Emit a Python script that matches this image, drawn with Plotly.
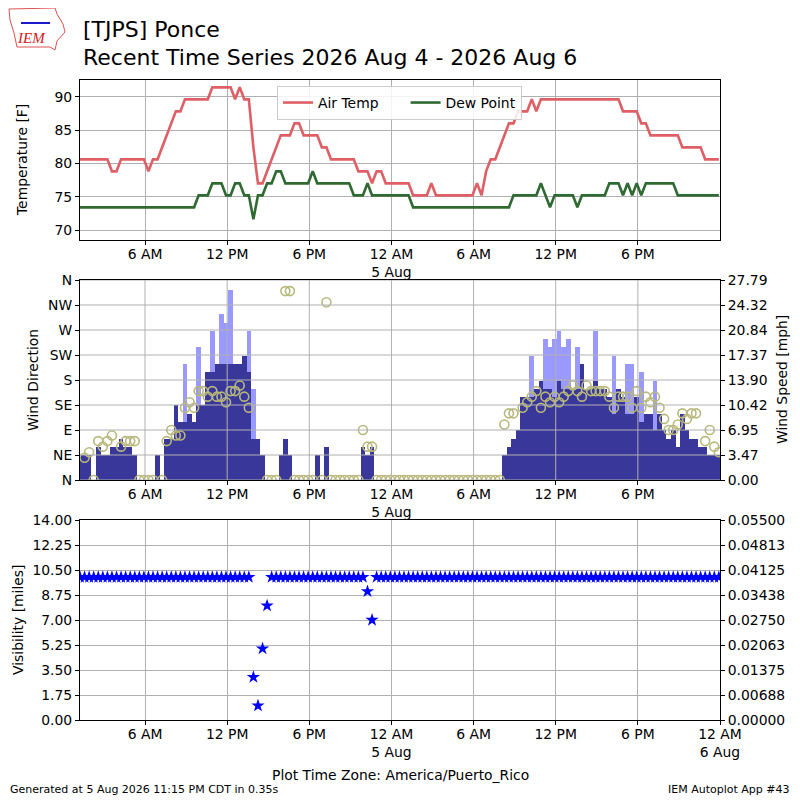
import pandas as pd
import plotly.graph_objects as go

# Observações a cada 20 minutos (hora local America/Puerto_Rico)
tempos = pd.date_range("2026-08-04 01:15", periods=141, freq="20min")

# Temperatura do ar [C]
temp_c = [
    27, 27, 27, 27, 27, 27, 27, 26, 26, 27,
    27, 27, 27, 27, 27, 26, 27, 27, 28, 29,
    30, 31, 31, 32, 32, 32, 32, 32, 32, 33,
    33, 33, 33, 33, 32, 33, 32, 32, 28, 25,
    25, 26, 27, 28, 29, 29, 29, 30, 30, 29,
    29, 29, 29, 28, 28, 27, 27, 27, 27, 27,
    27, 26, 26, 26, 25, 26, 26, 25, 25, 25,
    25, 25, 25, 24, 24, 24, 24, 25, 24, 24,
    24, 24, 24, 24, 24, 24, 24, 25, 24, 26,
    27, 27, 28, 29, 30, 30, 31, 31, 31, 32,
    31, 32, 32, 32, 32, 32, 32, 32, 32, 32,
    32, 32, 32, 32, 32, 32, 32, 32, 32, 31,
    31, 31, 31, 30, 30, 29, 29, 29, 29, 29,
    29, 29, 28, 28, 28, 28, 28, 27, 27, 27,
    27,
]

# Ponto de orvalho [C]
orvalho_c = [
    23, 23, 23, 23, 23, 23, 23, 23, 23, 23,
    23, 23, 23, 23, 23, 23, 23, 23, 23, 23,
    23, 23, 23, 23, 23, 23, 24, 24, 24, 25,
    25, 25, 24, 24, 25, 25, 24, 24, 22, 24,
    24, 25, 25, 26, 26, 25, 25, 25, 25, 25,
    25, 26, 25, 25, 25, 25, 25, 25, 25, 25,
    24, 24, 24, 25, 24, 24, 24, 24, 24, 24,
    24, 24, 24, 23, 23, 23, 23, 23, 23, 23,
    23, 23, 23, 23, 23, 23, 23, 23, 23, 23,
    23, 23, 23, 23, 23, 24, 24, 24, 24, 24,
    24, 25, 24, 23, 24, 24, 24, 24, 24, 23,
    24, 24, 24, 24, 24, 24, 25, 25, 25, 24,
    25, 24, 25, 24, 25, 25, 25, 25, 25, 25,
    25, 24, 24, 24, 24, 24, 24, 24, 24, 24,
    24,
]

# Direção do vento [graus] (0 = calmo, None = sem direção)
direcao = [
    None, 40, 50, 0, 70, 60, 70, 80, None, 60,
    70, 70, 70, 0, 0, 0, 0, None, 0, 70,
    90, 80, 80, 130, 140, 130, 160, 160, 150, 160,
    150, 150, 140, 160, 160, 170, 150, 130, None, None,
    None, 0, 0, 0, None, 340, 340, 0, 0, 0,
    0, 0, None, 0, 320, 0, 0, 0, 0, 0,
    0, 0, 90, 60, 60, 0, 0, 0, 0, 0,
    0, 0, 0, 0, 0, 0, 0, 0, 0, 0,
    0, 0, 0, 0, 0, 0, 0, 0, 0, 0,
    0, 0, 0, 100, 120, 120, None, 130, 140, 150,
    160, 130, 150, 140, 150, 140, 150, 160, 170, 160,
    150, 170, 160, 160, 160, 160, 150, 130, 150, 150,
    150, 130, 160, 130, 150, 140, 150, 130, 110, 90,
    90, 100, 120, 110, 120, 120, None, 70, 90, 60,
    50,
]

# Velocidade do vento [nós]
vento_kt = [
    3, 3, 3, 0, 4, 3, 3, 4, 4, 5,
    4, 4, 3, 0, 0, 0, 0, 3, 0, 5,
    5, 9, 7, 7, 8, 7, 9, 9, 13, 13,
    14, 14, 14, 14, 14, 14, 15, 13, 5, 5,
    3, 0, 0, 0, 3, 5, 3, 0, 0, 0,
    0, 0, 3, 0, 4, 0, 0, 0, 0, 0,
    0, 0, 4, 3, 4, 0, 0, 0, 0, 0,
    0, 0, 0, 0, 0, 0, 0, 0, 0, 0,
    0, 0, 0, 0, 0, 0, 0, 0, 0, 0,
    0, 0, 0, 3, 4, 5, 6, 10, 10, 10,
    11, 12, 11, 11, 10, 12, 11, 11, 11, 11,
    14, 11, 11, 12, 11, 11, 10, 8, 11, 10,
    8, 8, 10, 7, 8, 8, 6, 8, 6, 5,
    6, 4, 8, 6, 5, 5, 4, 4, 3, 3,
    3,
]

# Rajadas [nós]
rajada_kt = [
    None, None, None, None, None, None, None, None, None, None,
    None, None, None, None, None, None, None, None, None, None,
    None, None, None, 14, None, None, 16, None, None, 18,
    None, 20, 19, 23, None, None, None, 18, 11, None,
    None, None, None, None, None, None, None, None, None, None,
    None, None, None, None, None, None, None, None, None, None,
    None, None, None, None, None, None, None, None, None, None,
    None, None, None, None, None, None, None, None, None, None,
    None, None, None, None, None, None, None, None, None, None,
    None, None, None, None, None, None, None, None, None, 15,
    None, None, 17, 16, 17, 18, 16, 17, None, 16,
    None, None, None, 18, None, None, None, 15, None, None,
    14, 14, None, 13, None, None, 12, None, None, None,
    None, None, None, None, None, None, None, None, None, None,
    None,
]

# Visibilidade [milhas]
visibilidade = [
    10, 10, 10, 10, 10, 10, 10, 10, 10, 10,
    10, 10, 10, 10, 10, 10, 10, 10, 10, 10,
    10, 10, 10, 10, 10, 10, 10, 10, 10, 10,
    10, 10, 10, 10, 10, 10, 10, 10, 3, 1,
    5, 8, 10, 10, 10, 10, 10, 10, 10, 10,
    10, 10, 10, 10, 10, 10, 10, 10, 10, 10,
    10, 10, 10, 9, 7, 10, 10, 10, 10, 10,
    10, 10, 10, 10, 10, 10, 10, 10, 10, 10,
    10, 10, 10, 10, 10, 10, 10, 10, 10, 10,
    10, 10, 10, 10, 10, 10, 10, 10, 10, 10,
    10, 10, 10, 10, 10, 10, 10, 10, 10, 10,
    10, 10, 10, 10, 10, 10, 10, 10, 10, 10,
    10, 10, 10, 10, 10, 10, 10, 10, 10, 10,
    10, 10, 10, 10, 10, 10, 10, 10, 10, 10,
    10,
]

# Marcas do eixo do tempo
tick_vals = ["2026-08-04 06:00", "2026-08-04 12:00", "2026-08-04 18:00",
             "2026-08-05 00:00", "2026-08-05 06:00", "2026-08-05 12:00",
             "2026-08-05 18:00", "2026-08-06 00:00"]
tick_text = ["6 AM", "12 PM", "6 PM", "12 AM<br>5 Aug", "6 AM", "12 PM",
             "6 PM", "12 AM<br>6 Aug"]
rotulos_dir = ["N", "NE", "E", "SE", "S", "SW", "W", "NW", "N"]
ticks_vel = ["0.00", "3.47", "6.95", "10.42", "13.90", "17.37", "20.84", "24.32", "27.79"]
ticks_teto = ["0.00000", "0.00688", "0.01375", "0.02063", "0.02750", "0.03438",
              "0.04125", "0.04813", "0.05500"]

inicio, fim = "2026-08-04 01:15", "2026-08-06 00:00"
vel_max = 27.79

# conversões de unidade
temp_f = [c * 9 / 5 + 32 for c in temp_c]
orvalho_f = [c * 9 / 5 + 32 for c in orvalho_c]
vento_mph = [v * 1.15078 for v in vento_kt]
rajada_mph = [None if g is None else g * 1.15078 for g in rajada_kt]

FONTE = "DejaVu Sans"
CINZA = "#b0b0b0"

# a página tem 8 px de margem; área de plotagem na tela: x 80..720, y 80..720
DESL = 8
ML, MT = 80 - DESL, 80 - DESL
MR, MB = 800 - (720 - DESL), 800 - (720 - DESL)
LARG, ALT = 800 - ML - MR, 800 - MT - MB


def px(x):
    return (x - DESL - ML) / LARG


def py(y):
    return (800 - MB - (y - DESL)) / ALT


fig = go.Figure()

# Painel 1: temperatura (espaços extras afastam as entradas da legenda)
fig.add_trace(go.Scatter(x=tempos, y=temp_f, mode="lines", name="Air Temp" + "\u00a0" * 5,
                         line=dict(color="#df5f67", width=2.6), xaxis="x", yaxis="y"))
fig.add_trace(go.Scatter(x=tempos, y=orvalho_f, mode="lines", name="Dew Point",
                         line=dict(color="#2f6a33", width=2.6), xaxis="x", yaxis="y"))

# Painel 2: vento
largura = 20 * 60 * 1000
fig.add_trace(go.Bar(x=tempos, y=rajada_mph, width=largura, marker_color="#9999ff",
                     marker_line_width=0, showlegend=False, xaxis="x2", yaxis="y2"))
fig.add_trace(go.Bar(x=tempos, y=vento_mph, width=largura, marker_color="#393799",
                     marker_line_width=0, showlegend=False, xaxis="x2", yaxis="y2"))
fig.add_trace(go.Scatter(x=tempos, y=direcao, mode="markers", showlegend=False,
                         marker=dict(symbol="circle-open", size=9, color="#b8b87c",
                                     line=dict(width=1.6)),
                         xaxis="x2", yaxis="y3"))

# Painel 3: visibilidade
fig.add_trace(go.Scatter(x=tempos, y=visibilidade, mode="markers", showlegend=False,
                         marker=dict(symbol="star", size=10, color="#0000ff"),
                         xaxis="x3", yaxis="y4"))
fig.add_trace(go.Scatter(x=[None], y=[None], showlegend=False, xaxis="x3", yaxis="y5"))

eixo = dict(showline=True, linecolor="black", linewidth=1, mirror=True,
            ticks="outside", ticklen=4, tickcolor="black", gridcolor=CINZA,
            zeroline=False, automargin=False, tickfont=dict(size=13.9, color="black"))
eixo_x = dict(eixo, domain=[0, 1], range=[inicio, fim], ticklabelstandoff=-3)

fig.update_layout(
    width=800, height=800,
    margin=dict(l=ML, r=MR, t=MT, b=MB, autoexpand=False),
    paper_bgcolor="white", plot_bgcolor="white",
    font=dict(family=FONTE, size=13.9, color="black"),
    barmode="overlay", bargap=0,
    xaxis=dict(eixo_x, anchor="y", tickvals=tick_vals[:7], ticktext=tick_text[:7]),
    yaxis=dict(eixo, domain=[py(240), py(80)], range=[68.5, 92.5],
               tickvals=[70, 75, 80, 85, 90]),
    xaxis2=dict(eixo_x, anchor="y2", tickvals=tick_vals[:7], ticktext=tick_text[:7],
                showgrid=False),
    yaxis2=dict(eixo, domain=[py(480), py(280)], anchor="x2", side="right",
                range=[0, vel_max], showgrid=False,
                tickvals=[i * vel_max / 8 for i in range(9)], ticktext=ticks_vel),
    yaxis3=dict(eixo, overlaying="y2", anchor="x2", side="left", range=[0, 360],
                showgrid=False, tickvals=list(range(0, 361, 45)), ticktext=rotulos_dir),
    xaxis3=dict(eixo_x, anchor="y4", tickvals=tick_vals, ticktext=tick_text),
    yaxis4=dict(eixo, domain=[py(720), py(520)], anchor="x3", range=[0, 14],
                tickvals=[i * 1.75 for i in range(9)], tickformat=".2f"),
    yaxis5=dict(eixo, overlaying="y4", anchor="x3", side="right", range=[0, 0.055],
                showgrid=False, tickvals=[i * 0.055 / 8 for i in range(9)],
                ticktext=ticks_teto),
    legend=dict(orientation="h", x=px(277), y=py(86), xanchor="left", yanchor="top",
                bgcolor="rgba(255,255,255,0.85)", bordercolor="#cccccc", borderwidth=1,
                font=dict(size=13.9)),
)

# grade do painel do vento por cima das barras
for v in range(0, 361, 45):
    fig.add_shape(type="line", xref="x2 domain", yref="y3", x0=0, x1=1, y0=v, y1=v,
                  line=dict(color=CINZA, width=1), layer="above")
for t in tick_vals[:7]:
    fig.add_shape(type="line", xref="x2", yref="y3 domain", x0=t, x1=t, y0=0, y1=1,
                  line=dict(color=CINZA, width=1), layer="above")

# logotipo IEM (aproximado)
contorno = [(9, 9), (55, 8), (57, 14), (63, 24), (65, 32), (57, 41), (55, 50),
            (50, 47), (17, 47), (14, 33), (10, 20)]
caminho = "M " + " L ".join(f"{px(a)},{py(b)}" for a, b in contorno) + " Z"
fig.add_shape(type="path", xref="paper", yref="paper", path=caminho,
              line=dict(color="#e05050", width=1))
fig.add_shape(type="line", xref="paper", yref="paper", x0=px(21), x1=px(50),
              y0=py(23), y1=py(23), line=dict(color="#1a1acc", width=2))
fig.add_annotation(x=px(31), y=py(38), xref="paper", yref="paper", text="<i>IEM</i>",
                   xanchor="center", yanchor="middle", showarrow=False,
                   font=dict(family="Liberation Serif", size=15, color="#d42020"))

# títulos e rótulos (posições em pixels da tela)
textos = [
    dict(x=px(81), y=py(29.5), text="[TJPS] Ponce", xanchor="left", font=dict(size=22)),
    dict(x=px(81), y=py(57), text="Recent Time Series 2026 Aug 4 - 2026 Aug 6",
         xanchor="left", font=dict(size=22)),
    dict(x=px(22), y=py(160), text="Temperature [F]", textangle=-90),
    dict(x=px(33), y=py(380), text="Wind Direction", textangle=-90),
    dict(x=px(782), y=py(380), text="Wind Speed [mph]", textangle=-90),
    dict(x=px(18), y=py(620), text="Visibility [miles]", textangle=-90),
    dict(x=px(800), y=py(621), text="Overcast Ceiling [k ft]", textangle=-90,
         font=dict(size=13.9, color="#008000")),
    dict(x=px(400), y=py(775), text="Plot Time Zone: America/Puerto_Rico"),
    dict(x=px(8), y=py(789), text="Generated at 5 Aug 2026 11:15 PM CDT in 0.35s",
         xanchor="left", font=dict(size=11)),
    dict(x=px(792), y=py(789), text="IEM Autoplot App #43", xanchor="right",
         font=dict(size=11)),
]
for t in textos:
    t.setdefault("xanchor", "center")
    fig.add_annotation(dict(xref="paper", yref="paper", showarrow=False,
                            yanchor="middle", **t))

fig.write_html("out.html")
